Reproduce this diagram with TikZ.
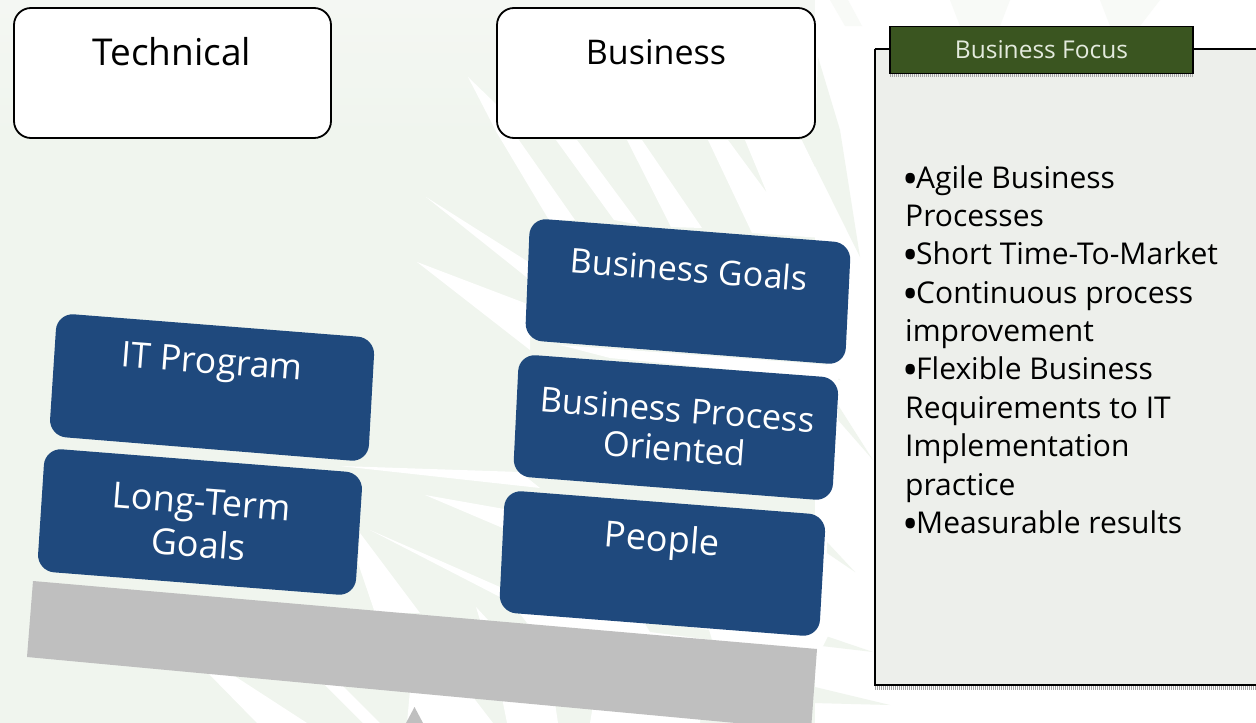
\documentclass[tikz,border=0pt]{standalone}
\usepackage{fontspec}
\setmainfont{Open Sans}
\definecolor{pale}{HTML}{F0F5EE}
\definecolor{paler}{HTML}{F4F7F3}
\definecolor{palest}{HTML}{F8FAF7}
\definecolor{blubox}{HTML}{1F497D}
\definecolor{barg}{HTML}{BFBFBF}
\definecolor{panel}{HTML}{EDEFEB}
\definecolor{hdr}{HTML}{3A5520}
\definecolor{hdrtxt}{HTML}{E3EADD}
\newcommand{\bul}{\makebox[11pt][c]{\raisebox{-0.2em}{\scalebox{1.45}{•}}}}
\tikzset{
  bluebox/.style={fill=blubox,rounded corners=17pt},
  bluetext/.style={text=white,font=\fontsize{35.5}{41}\selectfont,align=center,rotate=-4.45,inner sep=0pt},
  topbox/.style={draw=black,line width=1.8pt,fill=white,rounded corners=17pt,inner sep=0pt},
  toptext/.style={text=black,inner sep=0pt},
  streak/.style={fill=white,draw=none},
  wedge/.style={fill=pale,draw=none},
  fringe/.style={draw=gray!70,line width=3.5pt,dash pattern=on 1pt off 1pt}
}
\begin{document}
\begin{tikzpicture}[x=1pt,y=-1pt]
\useasboundingbox (0,0) rectangle (1256,723);
\begin{scope}
\clip (0,0) rectangle (1256,723);
\fill[pale] (0,0) rectangle (1256,723);
\shade[top color=paler,bottom color=pale] (0,0) rectangle (815,140);
% white background streaks, upper middle
\fill[streak] (468,77) -- (497,105) -- (514,133) -- (575,220) -- (549,220) -- (497,133) -- cycle;
\fill[streak] (556,140) -- (577,140) -- (640,225) -- (614,220) -- cycle;
\fill[streak] (627,140) -- (642,140) -- (702,228) -- (671,227) -- cycle;
\fill[streak] (708,140) -- (728,140) -- (767,193) -- (745,140) -- (802,140) -- (850,240) -- (752,233) -- cycle;
% white right side
\fill[streak] (815,0) -- (1256,0) -- (1256,723) -- (815,723) -- cycle;
\fill[palest] (830,0) -- (848,0) -- (862,26) -- (845,26) -- cycle;
\fill[palest] (950,0) -- (1010,0) -- (1000,26) -- (960,26) -- cycle;
\fill[palest] (1100,0) -- (1160,0) -- (1140,26) -- (1110,26) -- cycle;
\fill[wedge] (818,57) -- (840,130) -- (860,257) -- (802,140) -- (815,138) -- cycle;
\fill[wedge] (838,405) -- (873,460) -- (838,420) -- cycle;
\fill[wedge] (827,542) -- (855,572) -- (827,553) -- cycle;
\fill[wedge] (814,632) -- (873,652) -- (813,645) -- cycle;
\fill[wedge] (815,687) -- (890,705) -- (813,703) -- cycle;
\fill[wedge] (815,355) -- (830,367) -- (840,380) -- (815,375) -- cycle;
% streaks left of the business stack
\fill[streak] (426,197) -- (530,263) -- (530,280) -- cycle;
\fill[streak] (417,262) -- (530,305) -- (530,350) -- cycle;
\fill[streak] (340,466) -- (520,472) -- (540,488) -- cycle;
\fill[streak] (425,495) -- (510,510) -- (505,529) -- cycle;
\fill[streak] (370,530) -- (500,587) -- (500,597) -- cycle;
\fill[streak] (360,533) -- (420,613) -- (375,613) -- (358,563) -- cycle;
\fill[streak] (476,607) -- (488,620) -- (480,620) -- cycle;
% gap between bar and people, and between the boxes
\fill[streak] (517,610) -- (830,632) -- (820,652) -- (531,628) -- cycle;
\fill[wedge] (643,620) -- (709,630) -- (712,640) -- (650,632) -- cycle;
\fill[streak] (560,345) -- (845,366) -- (838,380) -- (610,358) -- cycle;
% streaks below the bar
\fill[streak] (207,672) -- (233,675) -- (307,723) -- (257,723) -- cycle;
\fill[streak] (322,682) -- (340,683) -- (380,723) -- (363,723) -- cycle;
\fill[streak] (410,690) -- (473,697) -- (493,723) -- (407,723) -- cycle;
\fill[streak] (502,698) -- (555,703) -- (558,723) -- (507,723) -- cycle;
\fill[streak] (593,705) -- (700,715) -- (700,723) -- (590,723) -- cycle;
\end{scope}
% top boxes
\node[topbox,minimum width=317pt,minimum height=130pt] (techbox) at (172.5,73) {};
\node[toptext,font=\fontsize{37}{44}\selectfont] (techlabel) at (172,52) {Technical};
\node[topbox,minimum width=318pt,minimum height=130pt] (busbox) at (656,73) {};
\node[toptext,font=\fontsize{34}{41}\selectfont] (buslabel) at (656,52) {Business};
% grey bar and pivot
\begin{scope}
\clip (0,0) rectangle (1256,723);
\fill[barg] (414.5,707) -- (432,740) -- (397,740) -- cycle;
\fill[barg] (33,581) -- (817,649) -- (811,730) -- (27,657) -- cycle;
\end{scope}
% blue boxes
\fill[bluebox] (57,313) -- (375,338) -- (368,462) -- (49,436) -- cycle;
\node[bluetext] (itprog) at (212,365) {IT Program};
\fill[bluebox] (45,448) -- (363,473) -- (355,596) -- (37,571) -- cycle;
\node[bluetext,font=\fontsize{36}{43}\selectfont] (longterm) at (200,523) {Long-Term\\Goals};
\fill[bluebox] (530,218) -- (851,243) -- (845,365) -- (525,340) -- cycle;
\node[bluetext,font=\fontsize{34}{41}\selectfont] (busgoals) at (689,269) {Business Goals};
\fill[bluebox] (519,354) -- (839,378) -- (832,501) -- (513,476) -- cycle;
\node[bluetext,font=\fontsize{34.5}{39}\selectfont] (busproc) at (676,429) {Business Process\\Oriented};
\fill[bluebox] (505,490) -- (826,515) -- (819,637) -- (499,612) -- cycle;
\node[bluetext,font=\fontsize{36}{41}\selectfont] (people) at (662,542) {People};
% right panel
\draw[fringe] (875,688) -- (1256,688);
\fill[panel] (874.5,49) rectangle (1260,685);
\draw[black,line width=1.3pt] (874.5,49) -- (1260,49);
\draw[black,line width=2pt] (874.5,48.5) -- (874.5,685) -- (1260,685);
\draw[fringe] (890,75.5) -- (1193,75.5);
\node[draw=black,line width=1.5pt,fill=hdr,minimum width=303pt,minimum height=47pt,inner sep=0pt,text=hdrtxt,font=\fontsize{24.5}{29}\selectfont] (hdrbox) at (1041.5,50) {Business Focus};
\node[anchor=north west,inner sep=0pt,align=left,text=black,font=\fontsize{30}{38.4}\selectfont] (bullets) at (905,165) {\bul Agile Business\\Processes\\\bul Short Time-To-Market\\\bul Continuous process\\improvement\\\bul Flexible Business\\Requirements to IT\\Implementation\\practice\\\bul Measurable results};
\end{tikzpicture}
\end{document}
